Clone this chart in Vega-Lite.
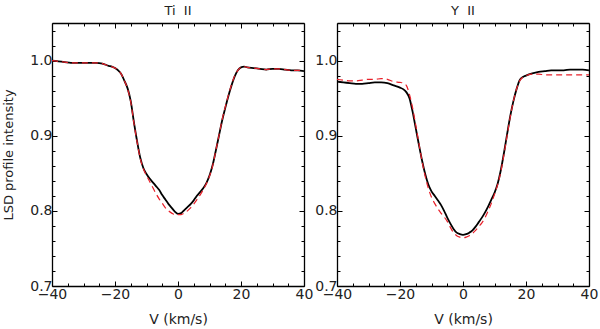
{
  "$schema": "https://vega.github.io/schema/vega-lite/v6.json",
  "padding": {"left": 2, "top": 4, "right": 11, "bottom": 0},
  "bounds": "flush",
  "spacing": 33,
  "background": "white",
  "config": {
    "view": {"stroke": null},
    "font": "DejaVu Sans",
    "axis": {"grid": false, "domainColor": "black", "domainWidth": 1.3, "tickColor": "black", "tickWidth": 1, "labelFont": "DejaVu Sans", "labelFontSize": 14, "labelColor": "#222", "titleFont": "DejaVu Sans", "titleFontSize": 13, "titleFontWeight": "normal", "titleColor": "#222", "labelOverlap": false, "labelFlush": false, "labelBound": false},
    "title": {"font": "DejaVu Sans", "fontSize": 13, "fontWeight": "normal", "color": "#222", "offset": 5}
  },
  "datasets": {
    "d": [
      {"p":"Ti","s":"o","v":-40,"I":1.000},{"p":"Ti","s":"o","v":-38,"I":0.999},{"p":"Ti","s":"o","v":-36,"I":0.998},{"p":"Ti","s":"o","v":-34,"I":0.997},{"p":"Ti","s":"o","v":-32,"I":0.997},{"p":"Ti","s":"o","v":-30,"I":0.997},{"p":"Ti","s":"o","v":-28,"I":0.997},{"p":"Ti","s":"o","v":-26,"I":0.997},{"p":"Ti","s":"o","v":-24,"I":0.996},{"p":"Ti","s":"o","v":-22,"I":0.993},{"p":"Ti","s":"o","v":-21,"I":0.992},{"p":"Ti","s":"o","v":-20,"I":0.990},{"p":"Ti","s":"o","v":-19,"I":0.987},{"p":"Ti","s":"o","v":-18,"I":0.982},{"p":"Ti","s":"o","v":-17,"I":0.973},{"p":"Ti","s":"o","v":-16,"I":0.963},{"p":"Ti","s":"o","v":-15,"I":0.946},{"p":"Ti","s":"o","v":-14,"I":0.918},{"p":"Ti","s":"o","v":-13,"I":0.893},{"p":"Ti","s":"o","v":-12,"I":0.871},{"p":"Ti","s":"o","v":-11,"I":0.857},{"p":"Ti","s":"o","v":-10,"I":0.849},{"p":"Ti","s":"o","v":-9,"I":0.843},{"p":"Ti","s":"o","v":-8,"I":0.838},{"p":"Ti","s":"o","v":-7,"I":0.833},{"p":"Ti","s":"o","v":-6,"I":0.828},{"p":"Ti","s":"o","v":-5,"I":0.821},{"p":"Ti","s":"o","v":-4,"I":0.815},{"p":"Ti","s":"o","v":-3,"I":0.809},{"p":"Ti","s":"o","v":-2,"I":0.804},{"p":"Ti","s":"o","v":-1,"I":0.799},{"p":"Ti","s":"o","v":0,"I":0.796},{"p":"Ti","s":"o","v":1,"I":0.797},{"p":"Ti","s":"o","v":2,"I":0.801},{"p":"Ti","s":"o","v":3,"I":0.805},{"p":"Ti","s":"o","v":4,"I":0.809},{"p":"Ti","s":"o","v":5,"I":0.814},{"p":"Ti","s":"o","v":6,"I":0.820},{"p":"Ti","s":"o","v":7,"I":0.825},{"p":"Ti","s":"o","v":8,"I":0.830},{"p":"Ti","s":"o","v":9,"I":0.837},{"p":"Ti","s":"o","v":10,"I":0.847},{"p":"Ti","s":"o","v":11,"I":0.861},{"p":"Ti","s":"o","v":12,"I":0.880},{"p":"Ti","s":"o","v":13,"I":0.900},{"p":"Ti","s":"o","v":14,"I":0.920},{"p":"Ti","s":"o","v":15,"I":0.937},{"p":"Ti","s":"o","v":16,"I":0.953},{"p":"Ti","s":"o","v":17,"I":0.967},{"p":"Ti","s":"o","v":18,"I":0.979},{"p":"Ti","s":"o","v":19,"I":0.987},{"p":"Ti","s":"o","v":20,"I":0.991},{"p":"Ti","s":"o","v":21,"I":0.992},{"p":"Ti","s":"o","v":22,"I":0.991},{"p":"Ti","s":"o","v":24,"I":0.990},{"p":"Ti","s":"o","v":26,"I":0.989},{"p":"Ti","s":"o","v":28,"I":0.988},{"p":"Ti","s":"o","v":30,"I":0.989},{"p":"Ti","s":"o","v":32,"I":0.989},{"p":"Ti","s":"o","v":34,"I":0.988},{"p":"Ti","s":"o","v":36,"I":0.987},{"p":"Ti","s":"o","v":38,"I":0.987},{"p":"Ti","s":"o","v":40,"I":0.986},

      {"p":"Ti","s":"m","v":-40,"I":1.000},{"p":"Ti","s":"m","v":-38,"I":0.999},{"p":"Ti","s":"m","v":-36,"I":0.998},{"p":"Ti","s":"m","v":-34,"I":0.997},{"p":"Ti","s":"m","v":-32,"I":0.997},{"p":"Ti","s":"m","v":-30,"I":0.997},{"p":"Ti","s":"m","v":-28,"I":0.997},{"p":"Ti","s":"m","v":-26,"I":0.997},{"p":"Ti","s":"m","v":-24,"I":0.996},{"p":"Ti","s":"m","v":-22,"I":0.993},{"p":"Ti","s":"m","v":-21,"I":0.992},{"p":"Ti","s":"m","v":-20,"I":0.990},{"p":"Ti","s":"m","v":-19,"I":0.987},{"p":"Ti","s":"m","v":-18,"I":0.982},{"p":"Ti","s":"m","v":-17,"I":0.973},{"p":"Ti","s":"m","v":-16,"I":0.962},{"p":"Ti","s":"m","v":-15,"I":0.945},{"p":"Ti","s":"m","v":-14,"I":0.917},{"p":"Ti","s":"m","v":-13,"I":0.892},{"p":"Ti","s":"m","v":-12,"I":0.870},{"p":"Ti","s":"m","v":-11,"I":0.856},{"p":"Ti","s":"m","v":-10,"I":0.847},{"p":"Ti","s":"m","v":-9,"I":0.839},{"p":"Ti","s":"m","v":-8,"I":0.831},{"p":"Ti","s":"m","v":-7,"I":0.823},{"p":"Ti","s":"m","v":-6,"I":0.816},{"p":"Ti","s":"m","v":-5,"I":0.810},{"p":"Ti","s":"m","v":-4,"I":0.804},{"p":"Ti","s":"m","v":-3,"I":0.800},{"p":"Ti","s":"m","v":-2,"I":0.797},{"p":"Ti","s":"m","v":-1,"I":0.795},{"p":"Ti","s":"m","v":0,"I":0.795},{"p":"Ti","s":"m","v":1,"I":0.795},{"p":"Ti","s":"m","v":2,"I":0.797},{"p":"Ti","s":"m","v":3,"I":0.800},{"p":"Ti","s":"m","v":4,"I":0.804},{"p":"Ti","s":"m","v":5,"I":0.809},{"p":"Ti","s":"m","v":6,"I":0.815},{"p":"Ti","s":"m","v":7,"I":0.821},{"p":"Ti","s":"m","v":8,"I":0.828},{"p":"Ti","s":"m","v":9,"I":0.836},{"p":"Ti","s":"m","v":10,"I":0.846},{"p":"Ti","s":"m","v":11,"I":0.860},{"p":"Ti","s":"m","v":12,"I":0.880},{"p":"Ti","s":"m","v":13,"I":0.900},{"p":"Ti","s":"m","v":14,"I":0.921},{"p":"Ti","s":"m","v":15,"I":0.938},{"p":"Ti","s":"m","v":16,"I":0.954},{"p":"Ti","s":"m","v":17,"I":0.968},{"p":"Ti","s":"m","v":18,"I":0.980},{"p":"Ti","s":"m","v":19,"I":0.987},{"p":"Ti","s":"m","v":20,"I":0.991},{"p":"Ti","s":"m","v":21,"I":0.992},{"p":"Ti","s":"m","v":22,"I":0.991},{"p":"Ti","s":"m","v":24,"I":0.990},{"p":"Ti","s":"m","v":26,"I":0.989},{"p":"Ti","s":"m","v":28,"I":0.988},{"p":"Ti","s":"m","v":30,"I":0.989},{"p":"Ti","s":"m","v":32,"I":0.989},{"p":"Ti","s":"m","v":34,"I":0.988},{"p":"Ti","s":"m","v":36,"I":0.987},{"p":"Ti","s":"m","v":38,"I":0.987},{"p":"Ti","s":"m","v":40,"I":0.986},

      {"p":"Y","s":"o","v":-40,"I":0.972},{"p":"Y","s":"o","v":-38,"I":0.971},{"p":"Y","s":"o","v":-36,"I":0.970},{"p":"Y","s":"o","v":-34,"I":0.969},{"p":"Y","s":"o","v":-32,"I":0.969},{"p":"Y","s":"o","v":-30,"I":0.970},{"p":"Y","s":"o","v":-28,"I":0.971},{"p":"Y","s":"o","v":-26,"I":0.971},{"p":"Y","s":"o","v":-24,"I":0.970},{"p":"Y","s":"o","v":-22,"I":0.967},{"p":"Y","s":"o","v":-20,"I":0.964},{"p":"Y","s":"o","v":-19,"I":0.962},{"p":"Y","s":"o","v":-18,"I":0.958},{"p":"Y","s":"o","v":-17,"I":0.950},{"p":"Y","s":"o","v":-16,"I":0.932},{"p":"Y","s":"o","v":-15,"I":0.910},{"p":"Y","s":"o","v":-14,"I":0.888},{"p":"Y","s":"o","v":-13,"I":0.867},{"p":"Y","s":"o","v":-12,"I":0.849},{"p":"Y","s":"o","v":-11,"I":0.835},{"p":"Y","s":"o","v":-10,"I":0.826},{"p":"Y","s":"o","v":-9,"I":0.820},{"p":"Y","s":"o","v":-8,"I":0.814},{"p":"Y","s":"o","v":-7,"I":0.808},{"p":"Y","s":"o","v":-6,"I":0.800},{"p":"Y","s":"o","v":-5,"I":0.791},{"p":"Y","s":"o","v":-4,"I":0.783},{"p":"Y","s":"o","v":-3,"I":0.776},{"p":"Y","s":"o","v":-2,"I":0.771},{"p":"Y","s":"o","v":-1,"I":0.769},{"p":"Y","s":"o","v":0,"I":0.768},{"p":"Y","s":"o","v":1,"I":0.769},{"p":"Y","s":"o","v":2,"I":0.771},{"p":"Y","s":"o","v":3,"I":0.774},{"p":"Y","s":"o","v":4,"I":0.779},{"p":"Y","s":"o","v":5,"I":0.785},{"p":"Y","s":"o","v":6,"I":0.791},{"p":"Y","s":"o","v":7,"I":0.798},{"p":"Y","s":"o","v":8,"I":0.806},{"p":"Y","s":"o","v":9,"I":0.815},{"p":"Y","s":"o","v":10,"I":0.824},{"p":"Y","s":"o","v":11,"I":0.836},{"p":"Y","s":"o","v":12,"I":0.854},{"p":"Y","s":"o","v":13,"I":0.877},{"p":"Y","s":"o","v":14,"I":0.902},{"p":"Y","s":"o","v":15,"I":0.926},{"p":"Y","s":"o","v":16,"I":0.946},{"p":"Y","s":"o","v":17,"I":0.962},{"p":"Y","s":"o","v":18,"I":0.974},{"p":"Y","s":"o","v":19,"I":0.978},{"p":"Y","s":"o","v":20,"I":0.980},{"p":"Y","s":"o","v":22,"I":0.983},{"p":"Y","s":"o","v":24,"I":0.985},{"p":"Y","s":"o","v":26,"I":0.986},{"p":"Y","s":"o","v":28,"I":0.987},{"p":"Y","s":"o","v":30,"I":0.987},{"p":"Y","s":"o","v":32,"I":0.987},{"p":"Y","s":"o","v":34,"I":0.988},{"p":"Y","s":"o","v":36,"I":0.988},{"p":"Y","s":"o","v":38,"I":0.988},{"p":"Y","s":"o","v":40,"I":0.987},

      {"p":"Y","s":"m","v":-40,"I":0.975},{"p":"Y","s":"m","v":-38,"I":0.974},{"p":"Y","s":"m","v":-36,"I":0.973},{"p":"Y","s":"m","v":-34,"I":0.973},{"p":"Y","s":"m","v":-32,"I":0.974},{"p":"Y","s":"m","v":-30,"I":0.975},{"p":"Y","s":"m","v":-28,"I":0.975},{"p":"Y","s":"m","v":-26,"I":0.976},{"p":"Y","s":"m","v":-24,"I":0.975},{"p":"Y","s":"m","v":-22,"I":0.972},{"p":"Y","s":"m","v":-20,"I":0.971},{"p":"Y","s":"m","v":-19,"I":0.970},{"p":"Y","s":"m","v":-18,"I":0.967},{"p":"Y","s":"m","v":-17,"I":0.955},{"p":"Y","s":"m","v":-16,"I":0.937},{"p":"Y","s":"m","v":-15,"I":0.914},{"p":"Y","s":"m","v":-14,"I":0.890},{"p":"Y","s":"m","v":-13,"I":0.866},{"p":"Y","s":"m","v":-12,"I":0.846},{"p":"Y","s":"m","v":-11,"I":0.830},{"p":"Y","s":"m","v":-10,"I":0.818},{"p":"Y","s":"m","v":-9,"I":0.810},{"p":"Y","s":"m","v":-8,"I":0.803},{"p":"Y","s":"m","v":-7,"I":0.797},{"p":"Y","s":"m","v":-6,"I":0.792},{"p":"Y","s":"m","v":-5,"I":0.786},{"p":"Y","s":"m","v":-4,"I":0.778},{"p":"Y","s":"m","v":-3,"I":0.771},{"p":"Y","s":"m","v":-2,"I":0.767},{"p":"Y","s":"m","v":-1,"I":0.765},{"p":"Y","s":"m","v":0,"I":0.764},{"p":"Y","s":"m","v":1,"I":0.765},{"p":"Y","s":"m","v":2,"I":0.767},{"p":"Y","s":"m","v":3,"I":0.770},{"p":"Y","s":"m","v":4,"I":0.774},{"p":"Y","s":"m","v":5,"I":0.779},{"p":"Y","s":"m","v":6,"I":0.784},{"p":"Y","s":"m","v":7,"I":0.791},{"p":"Y","s":"m","v":8,"I":0.800},{"p":"Y","s":"m","v":9,"I":0.810},{"p":"Y","s":"m","v":10,"I":0.822},{"p":"Y","s":"m","v":11,"I":0.835},{"p":"Y","s":"m","v":12,"I":0.852},{"p":"Y","s":"m","v":13,"I":0.875},{"p":"Y","s":"m","v":14,"I":0.900},{"p":"Y","s":"m","v":15,"I":0.925},{"p":"Y","s":"m","v":16,"I":0.946},{"p":"Y","s":"m","v":17,"I":0.962},{"p":"Y","s":"m","v":18,"I":0.973},{"p":"Y","s":"m","v":19,"I":0.978},{"p":"Y","s":"m","v":20,"I":0.980},{"p":"Y","s":"m","v":22,"I":0.982},{"p":"Y","s":"m","v":24,"I":0.982},{"p":"Y","s":"m","v":26,"I":0.981},{"p":"Y","s":"m","v":28,"I":0.981},{"p":"Y","s":"m","v":30,"I":0.981},{"p":"Y","s":"m","v":32,"I":0.981},{"p":"Y","s":"m","v":34,"I":0.981},{"p":"Y","s":"m","v":36,"I":0.981},{"p":"Y","s":"m","v":38,"I":0.981},{"p":"Y","s":"m","v":40,"I":0.981}
    ]
  },
  "hconcat": [
    {
      "title": "Ti\u00a0\u00a0II",
      "width": 252,
      "height": 263,
      "data": {"name": "d"},
      "transform": [{"filter": "datum.p === 'Ti'"}],
      "resolve": {"axis": {"x": "independent", "y": "independent"}},
      "layer": [
        {
          "transform": [{"filter": "datum.s === 'o'"}],
          "mark": {"type": "line", "color": "black", "strokeWidth": 1.8, "interpolate": "monotone", "clip": true},
          "encoding": {
            "x": {"field": "v", "type": "quantitative", "scale": {"domain": [-40, 40], "nice": false, "zero": false},
              "axis": {"orient": "bottom", "title": "V (km/s)", "titleFontSize": 14, "titlePadding": 11, "values": [-40,-20,0,20,40], "tickSize": -5, "labelPadding": 6}},
            "y": {"field": "I", "type": "quantitative", "scale": {"domain": [0.7, 1.05], "nice": false, "zero": false},
              "axis": {"orient": "left", "title": "LSD profile intensity", "titlePadding": 14, "values": [0.7,0.8,0.9,1.0], "format": ".1f", "tickSize": -5, "labelPadding": 5}}
          }
        },
        {
          "transform": [{"filter": "datum.s === 'm'"}],
          "mark": {"type": "line", "color": "#e8202a", "strokeWidth": 1.2, "strokeDash": [6, 4], "interpolate": "monotone", "clip": true},
          "encoding": {
            "x": {"field": "v", "type": "quantitative",
              "axis": {"orient": "top", "title": null, "labels": false, "values": [-40,-20,0,20,40], "tickSize": -5}},
            "y": {"field": "I", "type": "quantitative",
              "axis": {"orient": "right", "title": null, "labels": false, "values": [0.7,0.8,0.9,1.0], "tickSize": -5}}
          }
        },
        {
          "transform": [{"filter": "datum.s === 'o'"}],
          "mark": {"type": "line", "opacity": 0},
          "encoding": {
            "x": {"field": "v", "type": "quantitative",
              "axis": {"orient": "bottom", "title": null, "labels": false, "domain": false, "values": [-35,-30,-25,-15,-10,-5,5,10,15,25,30,35], "tickSize": -3}},
            "y": {"field": "I", "type": "quantitative",
              "axis": {"orient": "left", "title": null, "labels": false, "domain": false, "values": [0.72,0.74,0.76,0.78,0.82,0.84,0.86,0.88,0.92,0.94,0.96,0.98,1.02,1.04], "tickSize": -3}}
          }
        },
        {
          "transform": [{"filter": "datum.s === 'o'"}],
          "mark": {"type": "line", "opacity": 0},
          "encoding": {
            "x": {"field": "v", "type": "quantitative",
              "axis": {"orient": "top", "title": null, "labels": false, "domain": false, "values": [-35,-30,-25,-15,-10,-5,5,10,15,25,30,35], "tickSize": -3}},
            "y": {"field": "I", "type": "quantitative",
              "axis": {"orient": "right", "title": null, "labels": false, "domain": false, "values": [0.72,0.74,0.76,0.78,0.82,0.84,0.86,0.88,0.92,0.94,0.96,0.98,1.02,1.04], "tickSize": -3}}
          }
        }
      ]
    },
    {
      "title": "Y\u00a0\u00a0II",
      "width": 252,
      "height": 263,
      "data": {"name": "d"},
      "transform": [{"filter": "datum.p === 'Y'"}],
      "resolve": {"axis": {"x": "independent", "y": "independent"}},
      "layer": [
        {
          "transform": [{"filter": "datum.s === 'o'"}],
          "mark": {"type": "line", "color": "black", "strokeWidth": 1.8, "interpolate": "monotone", "clip": true},
          "encoding": {
            "x": {"field": "v", "type": "quantitative", "scale": {"domain": [-40, 40], "nice": false, "zero": false},
              "axis": {"orient": "bottom", "title": "V (km/s)", "titleFontSize": 14, "titlePadding": 11, "values": [-40,-20,0,20,40], "tickSize": -5, "labelPadding": 6}},
            "y": {"field": "I", "type": "quantitative", "scale": {"domain": [0.7, 1.05], "nice": false, "zero": false},
              "axis": {"orient": "left", "title": null, "values": [0.7,0.8,0.9,1.0], "format": ".1f", "tickSize": -5, "labelPadding": 5}}
          }
        },
        {
          "transform": [{"filter": "datum.s === 'm'"}],
          "mark": {"type": "line", "color": "#e8202a", "strokeWidth": 1.2, "strokeDash": [6, 4], "interpolate": "monotone", "clip": true},
          "encoding": {
            "x": {"field": "v", "type": "quantitative",
              "axis": {"orient": "top", "title": null, "labels": false, "values": [-40,-20,0,20,40], "tickSize": -5}},
            "y": {"field": "I", "type": "quantitative",
              "axis": {"orient": "right", "title": null, "labels": false, "values": [0.7,0.8,0.9,1.0], "tickSize": -5}}
          }
        },
        {
          "transform": [{"filter": "datum.s === 'o'"}],
          "mark": {"type": "line", "opacity": 0},
          "encoding": {
            "x": {"field": "v", "type": "quantitative",
              "axis": {"orient": "bottom", "title": null, "labels": false, "domain": false, "values": [-35,-30,-25,-15,-10,-5,5,10,15,25,30,35], "tickSize": -3}},
            "y": {"field": "I", "type": "quantitative",
              "axis": {"orient": "left", "title": null, "labels": false, "domain": false, "values": [0.72,0.74,0.76,0.78,0.82,0.84,0.86,0.88,0.92,0.94,0.96,0.98,1.02,1.04], "tickSize": -3}}
          }
        },
        {
          "transform": [{"filter": "datum.s === 'o'"}],
          "mark": {"type": "line", "opacity": 0},
          "encoding": {
            "x": {"field": "v", "type": "quantitative",
              "axis": {"orient": "top", "title": null, "labels": false, "domain": false, "values": [-35,-30,-25,-15,-10,-5,5,10,15,25,30,35], "tickSize": -3}},
            "y": {"field": "I", "type": "quantitative",
              "axis": {"orient": "right", "title": null, "labels": false, "domain": false, "values": [0.72,0.74,0.76,0.78,0.82,0.84,0.86,0.88,0.92,0.94,0.96,0.98,1.02,1.04], "tickSize": -3}}
          }
        }
      ]
    }
  ]
}
